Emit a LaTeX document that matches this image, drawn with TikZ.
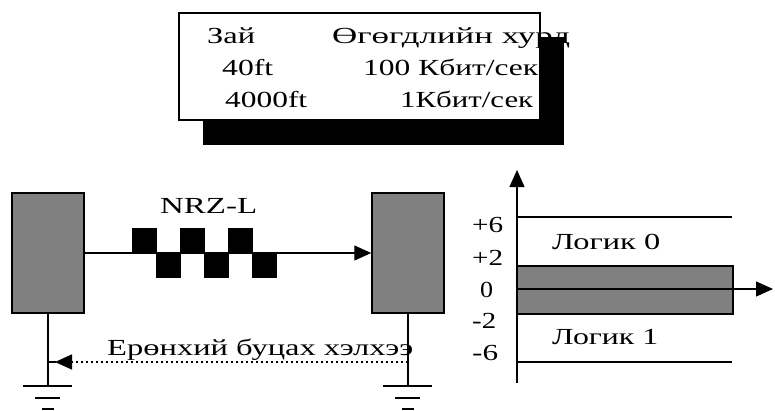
\documentclass[tikz,border=0pt]{standalone}
\usepackage{fontspec}
\setmainfont{Liberation Serif}
\usetikzlibrary{arrows.meta}
\definecolor{blockgray}{HTML}{808080}
\newcommand{\fitw}[2]{\resizebox{#1}{\height}{#2}}
\begin{document}
\begin{tikzpicture}[x=1pt,y=-1pt,
  txt/.style={font=\fontsize{23}{25}\selectfont, inner sep=0pt, anchor=base west},
  block/.style={draw=black, line width=1.5pt, fill=blockgray, minimum width=72pt, minimum height=120pt, inner sep=0pt},
  sq/.style={fill=black},
  wire/.style={line width=1.2pt},
  tip/.style={-{Triangle[length=17pt,width=15pt]}},
]
\useasboundingbox (0,0) rectangle (775,410);

% table with shadow
\fill[black] (203,37) rectangle (564,145);
\node[draw=black, line width=1.2pt, fill=white, minimum width=361pt, minimum height=107pt, inner sep=0pt] (tbl) at (359.5,66.5) {};
\node[txt] (h1) at (207,43) {\fitw{48pt}{Зай}};
\node[txt] (h2) at (332,43) {\fitw{238pt}{Өгөгдлийн хурд}};
\node[txt] (a1) at (222,75) {\fitw{51pt}{40ft}};
\node[txt] (a2) at (363,75) {\fitw{175pt}{100 Кбит/сек}};
\node[txt] (b1) at (225,107) {\fitw{82pt}{4000ft}};
\node[txt] (b2) at (400,107) {\fitw{133pt}{1Кбит/сек}};

% blocks
\node[block] (L) at (48,253) {};
\node[block] (R) at (408,253) {};
\draw[wire, tip] (L.east) -- (R.west);
\node[txt] (nrz) at (160,213) {\fitw{97pt}{NRZ-L}};

% NRZ squares
\fill[sq] (132,228) rectangle (157,253);
\fill[sq] (180,228) rectangle (205,253);
\fill[sq] (228,228) rectangle (253,253);
\fill[sq] (156,253) rectangle (181,278);
\fill[sq] (204,253) rectangle (229,278);
\fill[sq] (252,253) rectangle (277,278);

% grounds
\coordinate (gL) at (48,386);
\coordinate (gR) at (408,386);
\coordinate (rL) at (48,362);
\coordinate (rR) at (408,362);
\draw[wire] (L.south) -- (gL);
\draw[wire] (R.south) -- (gR);
\draw[wire] (23,386) -- (72,386);
\draw[wire] (35,398) -- (60,398);
\draw[wire] (42,409) -- (54,409);
\draw[wire] (383,386) -- (432,386);
\draw[wire] (395,398) -- (420,398);
\draw[wire] (402,409) -- (414,409);

% return path
\draw[line width=1.6pt, dash pattern=on 2pt off 3pt, tip, shorten >=7pt] (rR) -- (rL);
\draw[wire] (rL) -- +(8,0);
\node[txt] (ret) at (107,355) {\fitw{306pt}{Ерөнхий буцах хэлхээ}};

% chart
\coordinate (o) at (517,289);
\coordinate (ytop) at (517,170);
\coordinate (ybot) at (517,383);
\coordinate (xend) at (773,289);
\node[draw=black, line width=1.2pt, fill=blockgray, minimum width=216pt, minimum height=48pt, inner sep=0pt] (band) at (625,290) {};
\draw[wire] (517,217) -- (732,217);
\draw[wire] (517,362) -- (732,362);
\draw[wire, tip] (ybot) -- (ytop);
\draw[wire, tip] (o) -- (xend);
\node[txt] (l0) at (552,249) {\fitw{108pt}{Логик 0}};
\node[txt] (l1) at (552,344) {\fitw{106pt}{Логик 1}};
\node[txt] (p6) at (472,232) {\fitw{31pt}{+6}};
\node[txt] (p2) at (472,265) {\fitw{31pt}{+2}};
\node[txt] (z0) at (480,297) {\fitw{13pt}{0}};
\node[txt] (m2) at (472,328) {\fitw{24pt}{-2}};
\node[txt] (m6) at (472,360) {\fitw{26pt}{-6}};
\end{tikzpicture}
\end{document}
